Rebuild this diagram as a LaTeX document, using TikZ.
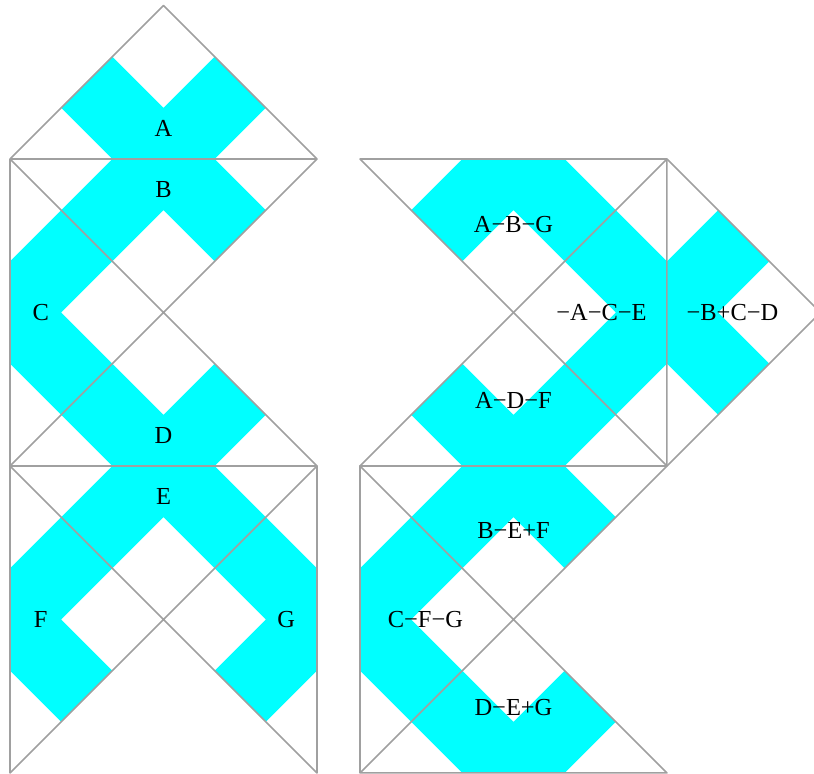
\documentclass[tikz,border=0pt]{standalone}
\usepackage{fontspec}
\setmainfont{Liberation Serif}
\usetikzlibrary{calc}
\definecolor{bandcyan}{HTML}{00FFFF}
\definecolor{edgegray}{HTML}{A0A0A0}

% band tile: hypotenuse #1--#2, apex #3
\newcommand{\bandtile}[3]{%
  \fill[bandcyan] ($(#1)!1/3!(#2)$) -- ($(#1)!1/3!(#3)$) -- ($(#1)!2/3!(#3)$)
    -- ($(#1)!.5!(#2)!1/3!(#3)$) -- ($(#2)!2/3!(#3)$) -- ($(#2)!1/3!(#3)$)
    -- ($(#1)!2/3!(#2)$) -- cycle;}

\begin{document}
\begin{tikzpicture}[x=3cm, y=3cm,
  tileedge/.style={edgegray, line width=1.3pt, line join=round},
  lbl/.style={font=\fontsize{20.4}{24}\selectfont, inner sep=0pt}]

\useasboundingbox (-0.098,-0.01) rectangle (7.857,7.554);

% Left net
\bandtile{0,6}{3,6}{1.5,7.5}
\bandtile{0,6}{3,6}{1.5,4.5}
\bandtile{0,6}{0,3}{1.5,4.5}
\bandtile{0,3}{3,3}{1.5,4.5}
\bandtile{0,3}{3,3}{1.5,1.5}
\bandtile{0,3}{0,0}{1.5,1.5}
\bandtile{3,3}{3,0}{1.5,1.5}

\draw[tileedge] (0,6) -- (1.5,7.5) -- (3,6) -- cycle;
\draw[tileedge] (0,6) -- (3,3) -- (0,3) -- (3,6);
\draw[tileedge] (0,6) -- (0,0) -- (3,3) -- (3,0) -- (0,3);

\node[lbl] (lA) at (1.5,6.3) {A};
\node[lbl] (lB) at (1.5,5.7) {B};
\node[lbl] (lC) at (0.3,4.5) {C};
\node[lbl] (lD) at (1.5,3.3) {D};
\node[lbl] (lE) at (1.5,2.7) {E};
\node[lbl] (lF) at (0.3,1.5) {F};
\node[lbl] (lG) at (2.7,1.5) {G};

% Right net
\begin{scope}[shift={(3.42,0)}]
\bandtile{0,6}{3,6}{1.5,4.5}
\bandtile{3,6}{3,3}{1.5,4.5}
\bandtile{0,3}{3,3}{1.5,4.5}
\bandtile{3,6}{3,3}{4.5,4.5}
\bandtile{0,3}{3,3}{1.5,1.5}
\bandtile{0,3}{0,0}{1.5,1.5}
\bandtile{0,0}{3,0}{1.5,1.5}

\draw[tileedge] (0,6) -- (3,6) -- (4.5,4.5) -- (3,3) -- cycle;
\draw[tileedge] (3,6) -- (3,3) -- (0,0) -- (3,0) -- (0,3) -- (3,6);
\draw[tileedge] (0,0) -- (0,3) -- (3,3);

\node[lbl] (rABG) at (1.5,5.36) {A−B−G};
\node[lbl] (rACE) at (2.36,4.5) {−A−C−E};
\node[lbl] (rBCD) at (3.64,4.5) {−B+C−D};
\node[lbl] (rADF) at (1.5,3.64) {A−D−F};
\node[lbl] (rBEF) at (1.5,2.37) {B−E+F};
\node[lbl] (rCFG) at (0.64,1.5) {C−F−G};
\node[lbl] (rDEG) at (1.5,0.64) {D−E+G};
\end{scope}

\end{tikzpicture}
\end{document}
